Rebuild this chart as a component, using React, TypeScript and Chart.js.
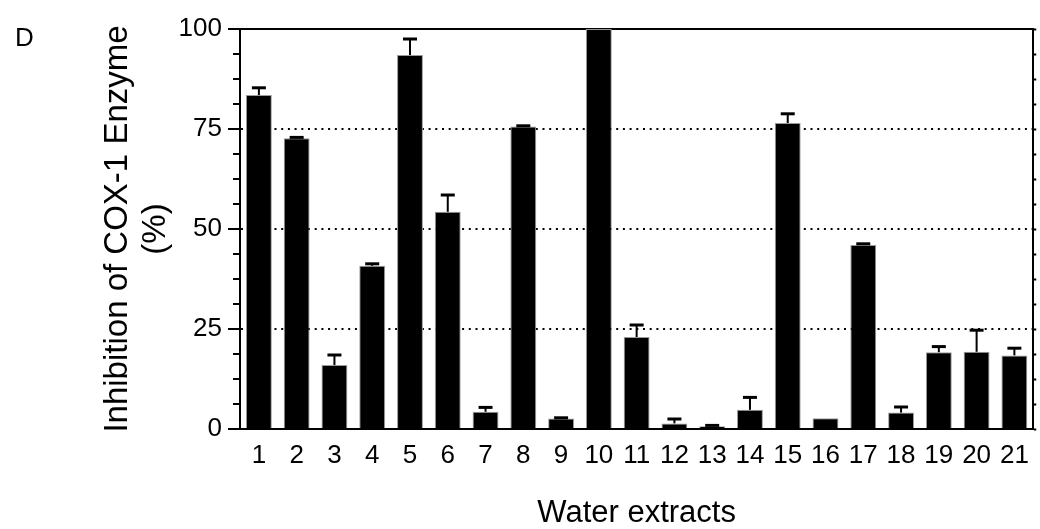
import React, { useEffect, useRef } from "react";
import { Chart, registerables } from "chart.js";

Chart.register(...registerables);

const categories = ["1","2","3","4","5","6","7","8","9","10","11","12","13","14","15","16","17","18","19","20","21"];
const inhibition = [83.5, 72.7, 16, 40.8, 93.5, 54.3, 4.3, 75.6, 2.6, 100, 23, 1.4, 0.7, 4.8, 76.5, 2.7, 46, 4.1, 19.2, 19.3, 18.4];
const errorsUp = [1.8, 0.2, 2.5, 0.5, 4, 4.2, 1.1, 0.2, 0.2, 0, 3, 1.1, 0.2, 3.1, 2.3, 0, 0.3, 1.4, 1.4, 5.4, 1.8];
const yMajorTicks = [0, 25, 50, 75, 100];
const yMinorStep = 6.25;
const yTitleLines = ["Inhibition of COX-1 Enzyme", "(%)"];
const xTitle = "Water extracts";
const panelLabel = "D";

const FONT = "'Liberation Sans', Arial, Helvetica, sans-serif";

const errorBarPlugin = {
  id: "errorBars",
  afterDatasetsDraw(chart: any) {
    const meta = chart.getDatasetMeta(0);
    const yScale = chart.scales.y;
    const ctx = chart.ctx;
    ctx.save();
    ctx.strokeStyle = "#000";
    meta.data.forEach((el: any, i: number) => {
      const e = errorsUp[i];
      if (!e) return;
      const top = yScale.getPixelForValue(inhibition[i] + e);
      const base = el.y;
      ctx.lineWidth = 2;
      ctx.beginPath();
      ctx.moveTo(el.x, base);
      ctx.lineTo(el.x, top);
      ctx.stroke();
      ctx.lineWidth = 3;
      ctx.beginPath();
      ctx.moveTo(el.x - 7, top);
      ctx.lineTo(el.x + 7, top);
      ctx.stroke();
    });
    ctx.restore();
  },
};

const minorTickPlugin = {
  id: "minorTicks",
  afterDraw(chart: any) {
    const yScale = chart.scales.y;
    const ctx = chart.ctx;
    const xAxis = yScale.right;
    ctx.save();
    ctx.strokeStyle = "#000";
    ctx.lineWidth = 2;
    for (let v = 0; v <= 100; v += yMinorStep) {
      if (yMajorTicks.includes(v)) continue;
      const py = Math.round(yScale.getPixelForValue(v));
      ctx.beginPath();
      ctx.moveTo(xAxis - 7, py);
      ctx.lineTo(xAxis, py);
      ctx.stroke();
    }
    ctx.restore();
  },
};

export default function App() {
  const canvasRef = useRef<HTMLCanvasElement>(null);

  useEffect(() => {
    if (!canvasRef.current) return;
    Chart.defaults.font.family = FONT;
    Chart.defaults.color = "#000";
    const chart = new Chart(canvasRef.current, {
      type: "bar",
      data: {
        labels: categories,
        datasets: [
          {
            data: inhibition,
            backgroundColor: "#000",
            borderColor: "#9a9a9a",
            borderWidth: 1,
            barPercentage: 0.685,
            categoryPercentage: 1,
            yAxisID: "y",
            xAxisID: "x",
          },
        ],
      },
      options: {
        responsive: false,
        animation: false,
        layout: { padding: { top: 29, left: 0, right: 0, bottom: 0 } },
        plugins: {
          legend: { display: false },
          tooltip: { enabled: false },
        },
        scales: {
          x: {
            type: "category",
            position: "bottom",
            grid: { display: false, drawTicks: false },
            border: { display: true, color: "#000", width: 2 },
            ticks: { font: { size: 26 }, padding: 11, color: "#000", maxRotation: 0, autoSkip: false },
            title: {
              display: true,
              text: xTitle,
              font: { size: 31, lineHeight: "31px" },
              color: "#000",
              padding: { top: 0, bottom: 0 },
            },
            afterFit: (s: any) => { s.height = 100; },
          },
          xTop: {
            type: "category",
            position: "top",
            grid: { display: false, drawTicks: false },
            border: { display: true, color: "#000", width: 2 },
            ticks: { display: false },
            afterFit: (s: any) => { s.height = 0; },
          },
          y: {
            position: "left",
            min: 0,
            max: 100,
            ticks: { stepSize: 25, font: { size: 26 }, padding: 6, color: "#000" },
            grid: {
              color: (c: any) => (c.tick && [25, 50, 75].includes(c.tick.value) ? "#000" : "rgba(0,0,0,0)"),
              lineWidth: 2,
              tickColor: "#000",
              tickLength: 12,
              tickWidth: 2,
              drawTicks: true,
            },
            border: { display: true, color: "#000", width: 2, dash: [2, 4.7] },
            title: {
              display: true,
              text: yTitleLines,
              font: { size: 33, lineHeight: "38px" },
              color: "#000",
              padding: { top: 99, bottom: 0 },
            },
            afterFit: (s: any) => { s.width = 240; },
          },
          y2: {
            position: "right",
            min: 0,
            max: 100,
            ticks: { display: false, stepSize: yMinorStep },
            grid: { drawOnChartArea: false, tickLength: 3, tickWidth: 2, tickColor: "#000" },
            border: { display: true, color: "#000", width: 2 },
            afterFit: (s: any) => { s.width = 3; },
          },
        },
      } as any,
      plugins: [errorBarPlugin, minorTickPlugin],
    });
    return () => chart.destroy();
  }, []);

  return (
    <div style={{ position: "fixed", left: 0, top: 0, width: 1040, height: 529, background: "#fff" }}>
      <div
        style={{
          position: "absolute",
          left: 15,
          top: 24,
          fontFamily: FONT,
          fontSize: 26,
          lineHeight: 1,
          color: "#000",
        }}
      >
        {panelLabel}
      </div>
      <canvas ref={canvasRef} width={1040} height={529} style={{ display: "block" }} />
    </div>
  );
}
